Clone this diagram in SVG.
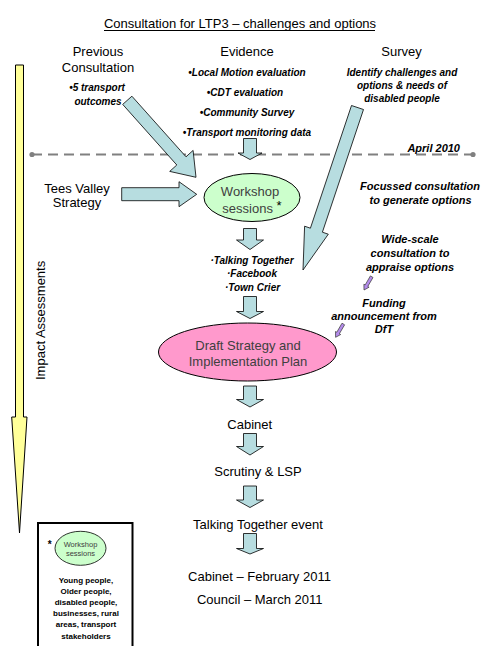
<svg xmlns="http://www.w3.org/2000/svg" width="481" height="646" viewBox="0 0 481 646">
<style>
text{font-family:"Liberation Sans",Arial,sans-serif;fill:#000}
.h{font-size:13px}
.c{text-anchor:middle}
.bi{font-size:10px;font-weight:bold;font-style:italic}
.bi11{font-size:11px;font-weight:bold;font-style:italic}
.node{font-size:13px;fill:#404040}
.blue{fill:#B7DDE0;stroke:#000;stroke-width:0.8}
.purple{fill:#B48CEB;stroke:#333;stroke-width:0.7}
.leg{font-size:8px;font-weight:bold}
</style>
<rect width="481" height="646" fill="#fff"/>
<g id="title">
<text class="h c" x="240" y="28">Consultation for LTP3 – challenges and options</text>
<line x1="104" y1="30.5" x2="375" y2="30.5" stroke="#000" stroke-width="1"/>
</g>
<g id="timeline">
<line x1="32" y1="154.5" x2="473" y2="154.5" stroke="#808080" stroke-width="2" stroke-dasharray="10 6"/>
<circle cx="32" cy="154.5" r="2.6" fill="#808080"/>
<circle cx="473" cy="154.5" r="2.6" fill="#808080"/>
<text class="bi11" x="460" y="152" text-anchor="end">April 2010</text>
</g>
<g id="impact">
<polygon points="15.5,65 23.5,65 23.5,417 27,417 19.5,533 11.7,417 15.5,417" fill="#FFFF99" stroke="#000" stroke-width="1"/>
<text class="h" transform="translate(44.5,380) rotate(-90)">Impact Assessments</text>
</g>
<g id="previous">
<text class="h c" x="98" y="55.5">Previous</text>
<text class="h c" x="98" y="71.5">Consultation</text>
<text class="bi c" x="97" y="91">•5 transport</text>
<text class="bi c" x="98" y="104.5">outcomes</text>
</g>
<g id="evidence">
<text class="h c" x="247" y="55.5">Evidence</text>
<text class="bi c" x="247" y="75.5">•Local Motion evaluation</text>
<text class="bi c" x="245" y="95.5">•CDT evaluation</text>
<text class="bi c" x="247" y="115.5">•Community Survey</text>
<text class="bi c" x="247" y="135.5">•Transport monitoring data</text>
</g>
<g id="survey">
<text class="h c" x="401.5" y="55.5">Survey</text>
<text class="bi c" x="402" y="75.5">Identify challenges and</text>
<text class="bi c" x="402" y="88.5">options &amp; needs of</text>
<text class="bi c" x="402" y="101.5">disabled people</text>
</g>
<g id="tees">
<text class="h c" x="77" y="193">Tees Valley</text>
<text class="h c" x="77" y="207">Strategy</text>
</g>
<g id="connectors">
<polygon class="blue" points="131.9,96.2 186,156.8 193.1,150.4 196,177.3 169.7,171.4 176.8,165 122.7,104.4"/>
<polygon class="blue" points="243.5,138.5 256.5,138.5 256.5,153 262,153 250,159.5 238,153 243.5,153"/>
<polygon class="blue" points="121.7,187.7 179,187.7 179,181.7 196.7,194.3 179,206.7 179,200.7 121.7,200.7"/>
<polygon class="blue" points="363.5,109.5 322.4,232.2 328.3,234.2 303,270 304.6,226.2 310.4,228.2 351.5,105.5"/>
<polygon class="blue" points="243.5,228.5 256.5,228.5 256.5,240 263.5,240 250,249.5 236.5,240 243.5,240"/>
<polygon class="blue" points="243.5,296.5 256.5,296.5 256.5,311.5 263.5,311.5 250,318.5 236.5,311.5 243.5,311.5"/>
<polygon class="blue" points="243.5,386 256.5,386 256.5,399.5 263.5,399.5 250,407 236.5,399.5 243.5,399.5"/>
<polygon class="blue" points="243.5,433.5 256.5,433.5 256.5,446.5 263.5,446.5 250,455 236.5,446.5 243.5,446.5"/>
<polygon class="blue" points="243.5,486 256.5,486 256.5,500 263.5,500 250,507.5 236.5,500 243.5,500"/>
<polygon class="blue" points="243.5,533.5 256.5,533.5 256.5,548.5 263.5,548.5 250,554 236.5,548.5 243.5,548.5"/>
<polygon class="purple" points="373,277.5 367.8,286.4 369.1,287.2 364,290 363.9,284.2 365.2,284.9 370.4,275.9"/>
<polygon class="purple" transform="translate(-28.4,47.3)" points="373,277.5 367.8,286.4 369.1,287.2 364,290 363.9,284.2 365.2,284.9 370.4,275.9"/>
</g>
<g id="workshop">
<ellipse cx="252" cy="197.5" rx="48" ry="24" fill="#CCFFCC" stroke="#000" stroke-width="1"/>
<text class="node c" x="250" y="196">Workshop</text>
<text class="node c" x="252" y="213">sessions <tspan dy="-3" style="fill:#000">*</tspan></text>
</g>
<g id="channels">
<text class="bi c" x="252" y="263.5">·Talking Together</text>
<text class="bi c" x="252" y="277">·Facebook</text>
<text class="bi c" x="252.5" y="290.5">·Town Crier</text>
</g>
<g id="notes">
<text class="bi11 c" x="420" y="190">Focussed consultation</text>
<text class="bi11 c" x="420.5" y="204">to generate options</text>
<text class="bi11 c" x="410" y="243">Wide-scale</text>
<text class="bi11 c" x="410" y="256.5">consultation to</text>
<text class="bi11 c" x="410" y="270.5">appraise options</text>
<text class="bi11 c" x="384" y="306.5">Funding</text>
<text class="bi11 c" x="384" y="319.5">announcement from</text>
<text class="bi11 c" x="384" y="333">DfT</text>
</g>
<g id="draft">
<ellipse cx="247.5" cy="352" rx="89" ry="29" fill="#FF99CC" stroke="#000" stroke-width="1"/>
<text class="node c" x="248" y="349.5">Draft Strategy and</text>
<text class="node c" x="248" y="365.5">Implementation Plan</text>
</g>
<g id="cabinet"><text class="h c" x="249.7" y="429">Cabinet</text></g>
<g id="scrutiny"><text class="h c" x="258" y="476">Scrutiny &amp; LSP</text></g>
<g id="talking"><text class="h c" x="258" y="528.5">Talking Together event</text></g>
<g id="final">
<text class="h c" x="259.5" y="581">Cabinet – February 2011</text>
<text class="h c" x="259.7" y="604">Council – March 2011</text>
</g>
<g id="legend">
<rect x="38" y="523" width="94.5" height="130" fill="#fff" stroke="#000" stroke-width="2"/>
<text x="47.7" y="548" style="font-size:10px;font-weight:bold">*</text>
<ellipse cx="80.5" cy="548.3" rx="25.5" ry="17" fill="#CCFFCC" stroke="#000" stroke-width="0.8"/>
<text class="c" x="80.5" y="547" style="font-size:7.5px;fill:#404040">Workshop</text>
<text class="c" x="80.5" y="556" style="font-size:7.5px;fill:#404040">sessions</text>
<text class="leg c" x="86" y="582.5">Young people,</text>
<text class="leg c" x="86" y="594">Older people,</text>
<text class="leg c" x="86" y="605">disabled people,</text>
<text class="leg c" x="86" y="616">businesses, rural</text>
<text class="leg c" x="86" y="627">areas, transport</text>
<text class="leg c" x="86" y="638.5">stakeholders</text>
</g>
</svg>
